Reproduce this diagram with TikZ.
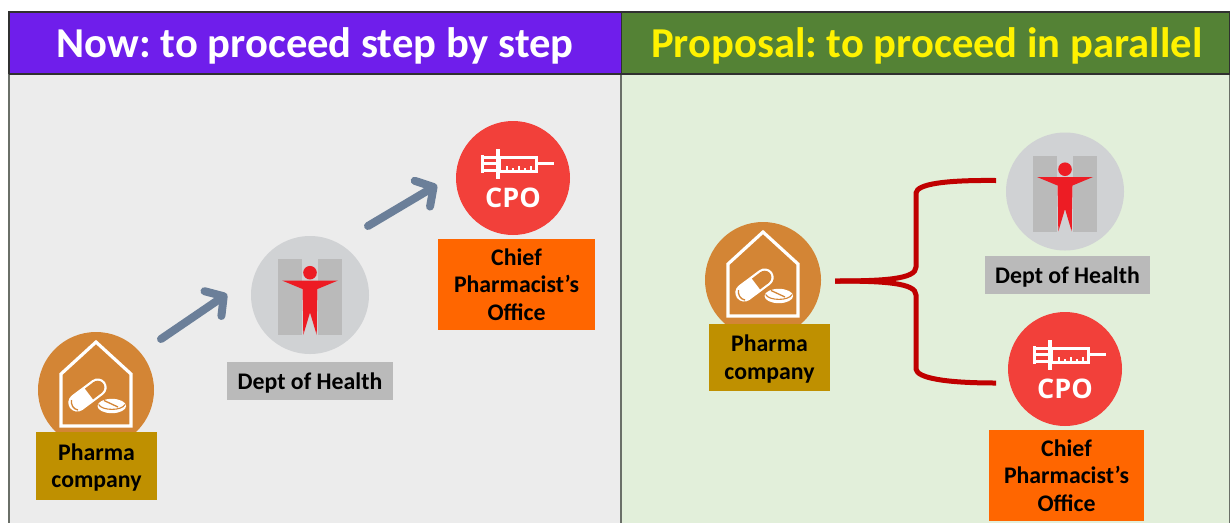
\documentclass[tikz,border=0pt]{standalone}
\usepackage{fontspec}
\setmainfont{Carlito}
\newfontfamily\cpofont{Open Sans}
\usetikzlibrary{arrows.meta,calc}
\definecolor{purpleH}{HTML}{6F1EEB}
\definecolor{greenH}{HTML}{548235}
\definecolor{panelL}{HTML}{ECECEC}
\definecolor{panelR}{HTML}{E2EFDA}
\definecolor{frameC}{HTML}{303030}
\definecolor{frameD}{HTML}{6A6F68}
\definecolor{pharmaC}{HTML}{D38535}
\definecolor{pharmaB}{HTML}{BF9000}
\definecolor{healthC}{HTML}{D0D2D4}
\definecolor{healthB}{HTML}{BABABA}
\definecolor{healthR}{HTML}{ED1C24}
\definecolor{cpoC}{HTML}{F2403A}
\definecolor{cpoB}{HTML}{FF6600}
\definecolor{arrowC}{HTML}{6B7F99}
\definecolor{braceC}{HTML}{C00000}
\newcommand\lblfirst[1]{\rule{0pt}{20pt}#1}
\newcommand\headfix[1]{\raisebox{-3pt}[\height][\depth]{#1}}
\tikzset{
  x=1pt,y=-1pt,
  disc/.style={circle,inner sep=0pt,minimum size=#1},
  labelbox/.style={fill=#1,inner sep=0pt,align=center,font=\fontsize{23.8}{27.5}\selectfont\bfseries,text=black},
  headtext/.style={font=\fontsize{42.6}{48}\selectfont\bfseries},
  stepline/.style={draw=arrowC,line width=8pt,line cap=round,-{Straight Barb[round,length=13pt,width=30pt]}},
  braceline/.style={draw=braceC,line width=5pt},
  housepic/.pic={
    \draw[white,line width=3.2pt,line join=miter] (0,-48)--(35,-16)--(35,36)--(-35,36)--(-35,-16)--cycle;
    \draw[white,line width=18pt,line cap=round] (-18.7,12.6)--(1.7,-2.6);
    \draw[pharmaC,line width=13.5pt,line cap=butt] (-7,4)--(1.7,-2.6);
    \fill[pharmaC] (1.7,-2.6) circle (6.7);
    \draw[pharmaC,line width=1.3pt] (-24.5,10) .. controls (-25,15) and (-23,19) .. (-18,20);
    \fill[white] (15.8,16) ellipse (14.3 and 7.2);
    \draw[pharmaC,line width=1.1pt] (2.6,14.5) .. controls (6,21) and (26,21) .. (29,14.5);
    \draw[pharmaC,line width=1.3pt] (8,10.5)--(22,17);
  },
  healthpic/.pic={
    \fill[healthB] (-32,-36) rectangle (-8,40);
    \fill[healthB] (8,-36) rectangle (32,40);
    \fill[healthR] (0,-22.3) circle (6.8);
    \fill[healthR] (-28,-14.5)--(28,-14.5)--(7.5,-6)--(7,16)--(6.7,40)--(0,17.5)--(-6.7,40)--(-7,16)--(-7.5,-6)--cycle;
  },
  cpopic/.pic={
    \draw[white,line width=3pt,line join=miter] (-14,-21) rectangle (23,-7);
    \draw[white,line width=3pt] (23,-15)--(41,-15);
    \draw[white,line width=3.2pt] (-15,-29)--(-15,1);
    \draw[white,line width=3pt] (-31,-23)--(-31,-5);
    \draw[white,line width=3pt] (-31,-21)--(-15,-21) (-31,-15)--(-15,-15) (-31,-8)--(-15,-8);
    \draw[white,line width=2pt] (-6,-7)--(-6,-12) (0,-7)--(0,-10) (6,-7)--(6,-12) (12,-7)--(12,-10) (18,-7)--(18,-12);
    \node[text=white,font=\cpofont\bfseries\fontsize{27}{27}\selectfont,inner sep=0pt] (#1) at (0,20) {CPO};
  },
}
\begin{document}
\begin{tikzpicture}
\frenchspacing
\useasboundingbox (0,0) rectangle (1230,523);
\fill[white] (0,0) rectangle (1230,523);
% panels
\fill[panelL] (9,74) rectangle (621,523);
\fill[panelR] (621,74) rectangle (1230,523);
\node[fill=purpleH,minimum width=612,minimum height=62,inner sep=0pt,anchor=north west,text=white,headtext] (headL) at (9,12) {\headfix{Now: to proceed step by step}};
\node[fill=greenH,minimum width=608,minimum height=62,inner sep=0pt,anchor=north west,text=yellow,headtext] (headR) at (621,12) {\hspace{3pt}\headfix{Proposal: to proceed in parallel}};
\draw[frameD,line width=1.3pt] (9,74)--(9,523) (621,74)--(621,523) (1229.5,74)--(1229.5,523);
\draw[frameC,line width=1.2pt] (9,74)--(9,12)--(1229.5,12)--(1229.5,74);
\draw[frameC,line width=1.2pt] (9,74)--(1229.5,74);
\draw[frameC,line width=1pt] (621,12)--(621,74);
% left side
\node[disc=116pt,fill=pharmaC] (pharmaL) at (96,390) {};
\pic at (96,390) {housepic};
\node[labelbox=pharmaB,minimum width=121,minimum height=68] (pharmaLbox) at (96.5,466) {\lblfirst{Pharma}\\company};
\node[disc=118pt,fill=healthC] (healthL) at (310,295) {};
\pic at (310,295) {healthpic};
\node[labelbox=healthB,minimum width=166,minimum height=38] (healthLbox) at (310,381) {\lblfirst{Dept of Health}};
\node[disc=114pt,fill=cpoC] (cpoL) at (513,178) {};
\pic at (513,178) {cpopic=cpoLt};
\node[labelbox=cpoB,minimum width=157,minimum height=91] (cpoLbox) at (516.5,284.5) {Chief\\Pharmacist’s\\Office};
\coordinate (a1s) at ($(pharmaL)+(65,-51)$);
\coordinate (a1e) at ($(healthL)+(-83,-1)$);
\coordinate (a2s) at ($(healthL)+(58,-69)$);
\coordinate (a2e) at ($(cpoL)+(-76,7)$);
\draw[stepline] (a1s)--(a1e);
\draw[stepline] (a2s)--(a2e);
% right side
\node[disc=116pt,fill=pharmaC] (pharmaR) at (763,280) {};
\pic at (763,280) {housepic};
\node[labelbox=pharmaB,minimum width=121,minimum height=67] (pharmaRbox) at (769.5,357.5) {\lblfirst{Pharma}\\company};
\node[disc=118pt,fill=healthC] (healthR) at (1065,191.5) {};
\pic at (1065,191.5) {healthpic};
\node[labelbox=healthB,minimum width=165,minimum height=38] (healthRbox) at (1067.5,275) {\lblfirst{Dept of Health}};
\node[disc=114pt,fill=cpoC] (cpoR) at (1065,369) {};
\pic at (1065,369) {cpopic=cpoRt};
\node[labelbox=cpoB,minimum width=155,minimum height=91] (cpoRbox) at (1066.5,475.5) {Chief\\Pharmacist’s\\Office};
\coordinate (bs) at ($(pharmaR)+(72,1)$);
\coordinate (be1) at ($(healthR)+(-69,-11)$);
\coordinate (be2) at ($(cpoR)+(-69,14)$);
\draw[braceline] (bs) .. controls ($(bs)+(50,0)$) and ($(bs)+(81,-2)$) .. ($(bs)+(81,-14)$) -- ($(bs)+(81,-88)$) .. controls ($(bs)+(82,-97)$) and ($(bs)+(110,-101)$) .. (be1);
\draw[braceline] (bs) .. controls ($(bs)+(50,0)$) and ($(bs)+(81,2)$) .. ($(bs)+(81,14)$) -- ($(bs)+(81,88)$) .. controls ($(bs)+(82,97)$) and ($(bs)+(110,102)$) .. (be2);
\end{tikzpicture}
\end{document}
